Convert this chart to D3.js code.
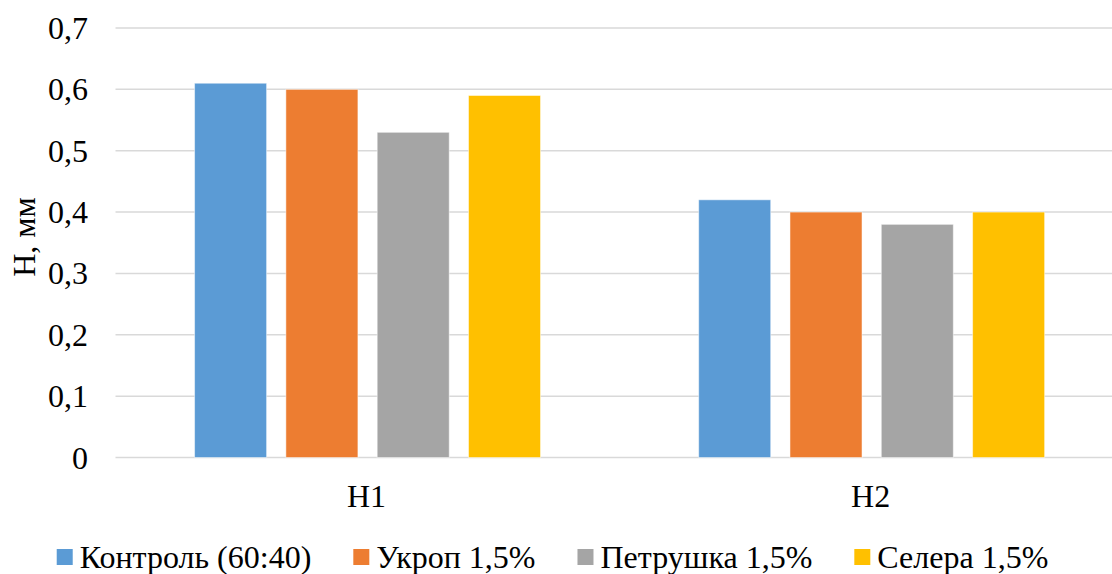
<!DOCTYPE html>
<html>
<head>
<meta charset="utf-8">
<script src="https://cdn.jsdelivr.net/npm/d3@7/dist/d3.min.js"></script>
</head>
<body style="margin:0">
<svg id="chart" width="1112" height="574"></svg>
<script>
// Categories, series and values
const categories = ["H1", "H2"];
const seriesNames = ["Контроль (60:40)", "Укроп 1,5%", "Петрушка 1,5%", "Селера 1,5%"];
const seriesColors = ["#5B9BD5", "#ED7D31", "#A5A5A5", "#FFC000"];
const control = [0.61, 0.42];
const dill = [0.60, 0.40];
const parsley = [0.53, 0.38];
const celery = [0.59, 0.40];
const yTicks = [0, 0.1, 0.2, 0.3, 0.4, 0.5, 0.6, 0.7];
const yTitle = "H, мм";

const seriesValues = [control, dill, parsley, celery];

const svg = d3.select("#chart");
const FONT = 32;

function serifText(sel) {
  return sel
    .attr("font-size", FONT)
    .style("font-family", '"Liberation Serif"');
}

const y = d3.scaleLinear().domain([0, 0.7]).range([457.5, 28]);
const x0 = d3.scaleBand().domain(categories).range([115.5, 1123.7]).paddingInner(0).paddingOuter(0);
const x1 = d3.scaleBand().domain(seriesNames).range([0, x0.bandwidth()])
  .paddingInner(0.211).paddingOuter(0.866);

// Gridlines
svg.append("g").selectAll("line")
  .data(yTicks)
  .join("line")
  .attr("x1", 115.5).attr("x2", 1123.7)
  .attr("y1", d => y(d)).attr("y2", d => y(d))
  .attr("stroke", "#d9d9d9").attr("stroke-width", 1.5);

// Y tick labels
const fmt = d => d === 0 ? "0" : d3.format(".1f")(d).replace(".", ",");
svg.selectAll("text.ytick")
  .data(yTicks)
  .join("text")
  .attr("class", "ytick")
  .attr("x", 88).attr("y", d => y(d) + 11)
  .attr("text-anchor", "end")
  .call(serifText)
  .text(fmt);

// Bars
const groups = svg.append("g").selectAll("g")
  .data(categories)
  .join("g")
  .attr("transform", c => `translate(${x0(c)},0)`);

groups.selectAll("rect")
  .data((c, ci) => seriesNames.map((s, si) => ({ s, si, v: seriesValues[si][ci] })))
  .join("rect")
  .attr("x", d => x1(d.s))
  .attr("width", x1.bandwidth())
  .attr("y", d => y(d.v))
  .attr("height", d => y(0) - y(d.v))
  .attr("fill", d => seriesColors[d.si])
  .attr("stroke", "#fff").attr("stroke-opacity", 0.5).attr("stroke-width", 1);

// Category labels
svg.selectAll("text.cat")
  .data(categories)
  .join("text")
  .attr("class", "cat")
  .attr("x", c => x0(c) + x0.bandwidth() / 2 - 1)
  .attr("y", 507)
  .attr("text-anchor", "middle")
  .call(serifText)
  .text(c => c);

// Y axis title
svg.append("text")
  .attr("transform", "translate(35,237) rotate(-90)")
  .attr("text-anchor", "middle")
  .call(serifText)
  .text(yTitle);

// Legend
const items = svg.selectAll("g.item")
  .data(seriesNames)
  .join("g")
  .attr("class", "item");
items.append("rect")
  .attr("width", 16).attr("height", 16)
  .attr("y", 549)
  .attr("fill", (d, i) => seriesColors[i]);
items.append("text")
  .attr("x", 23).attr("y", 568)
  .call(serifText)
  .text(d => d);

let cursor = 0;
const offsets = [];
items.each(function () {
  const w = d3.select(this).select("text").node().getComputedTextLength();
  offsets.push(cursor);
  cursor += 23 + w + 42;
});
const total = cursor - 42;
const start = 552.5 - total / 2;
items.attr("transform", (d, i) => `translate(${start + offsets[i]},0)`);
</script>
</body>
</html>
